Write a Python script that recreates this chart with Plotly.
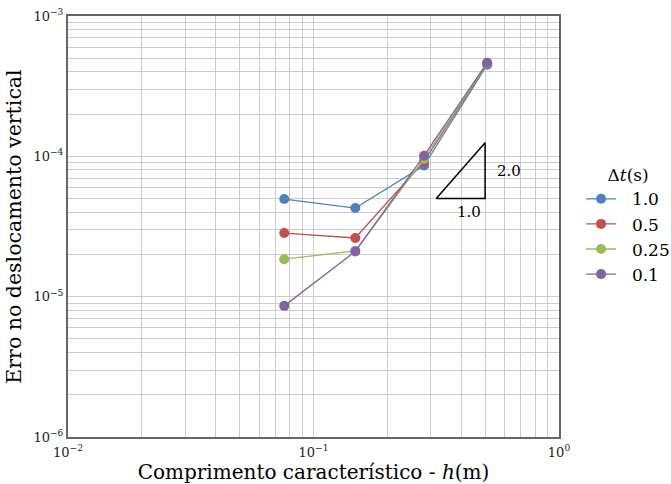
import numpy as np
import plotly.graph_objects as go

# Characteristic element length h (m)
h = [0.076, 0.148, 0.282, 0.51]

# Vertical displacement error for each time step
dt_labels = ["1.0", "0.5", "0.25", "0.1"]
err_dt_1_0 = [4.96e-5, 4.28e-5, 8.6e-5, 4.5e-4]
err_dt_0_5 = [2.84e-5, 2.62e-5, 9.2e-5, 4.57e-4]
err_dt_0_25 = [1.85e-5, 2.12e-5, 9.6e-5, 4.6e-4]
err_dt_0_1 = [8.6e-6, 2.1e-5, 1.01e-4, 4.65e-4]
series = [err_dt_1_0, err_dt_0_5, err_dt_0_25, err_dt_0_1]
colors = ["#4F81BD", "#C0504D", "#9BBB59", "#8064A2"]

# Slope-2 reference triangle
tri_x = [10 ** -0.5, 0.5, 0.5, 10 ** -0.5]
tri_y = [5e-5, 5e-5, 5e-5 * (0.5 / 10 ** -0.5) ** 2, 5e-5]

FONT = "DejaVu Serif"
NB = "\u00a0\u00a0"

fig = go.Figure()
for lab, vals, c in zip(dt_labels, series, colors):
    fig.add_trace(go.Scatter(
        x=h, y=vals, name=NB + lab, mode="lines+markers",
        line=dict(color=c, width=1.3),
        marker=dict(color=c, size=10),
    ))

fig.add_trace(go.Scatter(
    x=tri_x, y=tri_y, mode="lines", showlegend=False,
    line=dict(color="black", width=1.5), hoverinfo="skip",
))

fig.add_annotation(x=np.log10(np.sqrt(tri_x[0] * tri_x[1])), y=np.log10(tri_y[0]),
                   text="1.0", showarrow=False, yanchor="top", yshift=-2, xshift=8,
                   font=dict(family=FONT, size=15, color="black"))
fig.add_annotation(x=np.log10(tri_x[1]), y=np.log10(np.sqrt(tri_y[1] * tri_y[2])),
                   text="2.0", showarrow=False, xanchor="left", xshift=10,
                   font=dict(family=FONT, size=15, color="black"))


def log_ticks(lo, hi):
    vals, texts = [], []
    for e in range(lo, hi + 1):
        for m in range(1, 10):
            if e == hi and m > 1:
                break
            vals.append(m * 10.0 ** e)
            if m == 1:
                texts.append(f"10<sup>\u2212{-e}</sup>" if e < 0 else "10<sup>0</sup>")
            else:
                texts.append("")
    return vals, texts


xv, xt = log_ticks(-2, 0)
yv, yt = log_ticks(-6, -3)

axis_common = dict(
    type="log", showgrid=True, gridcolor="#cccccc", gridwidth=1,
    showline=True, linecolor="#666666", linewidth=2, mirror=True,
    ticks="", zeroline=False,
    tickfont=dict(family=FONT, size=13, color="#222222"),
)

fig.update_xaxes(range=[-2, 0], tickmode="array", tickvals=xv, ticktext=xt,
                 ticklabelstandoff=2,
                 title=dict(text="Comprimento característico - <i>h</i>(m)",
                            font=dict(family=FONT, size=20, color="black"), standoff=4),
                 **axis_common)
fig.update_yaxes(range=[-6, -3], tickmode="array", tickvals=yv, ticktext=yt,
                 title=dict(text="Erro no deslocamento vertical",
                            font=dict(family=FONT, size=20.5, color="black"), standoff=6),
                 **axis_common)

fig.update_layout(
    width=671, height=484,
    margin=dict(l=68, r=112, t=16, b=47, autoexpand=False),
    plot_bgcolor="white", paper_bgcolor="white",
    font=dict(family=FONT, color="black"),
    legend=dict(title=dict(text="\u0394<i>t</i>(s)", font=dict(family=FONT, size=17),
                           side="top center"),
                font=dict(family=FONT, size=17), x=1.045, y=0.66,
                xanchor="left", yanchor="top", bgcolor="rgba(0,0,0,0)"),
)

fig.write_html("out.html")
